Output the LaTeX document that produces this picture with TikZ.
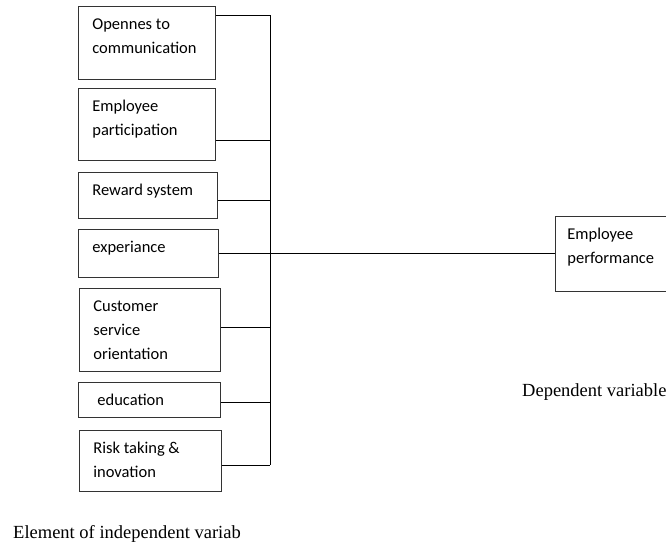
\documentclass[tikz,border=0pt]{standalone}
\usepackage{fontspec}
\setmainfont{Liberation Serif}
\newfontfamily\boxfont{Carlito}
\usepackage{tikz}
\usetikzlibrary{positioning}
\usetikzlibrary{calc}
% box content: height, width, text (top aligned, first baseline 23pt down)
\newcommand{\boxtxt}[3]{\parbox[c][#1][t]{#2}{\raggedright\leftskip=14pt\rule{0pt}{23pt}#3}}
\tikzset{
    varbox/.style={draw=black!80, line width=0.8pt, inner sep=0pt, anchor=north west,
        font=\boxfont\fontsize{16.5}{24}\selectfont},
    link/.style={draw=black, line width=0.8pt},
    caption/.style={font=\fontsize{18.5}{22}\selectfont, anchor=base west, inner sep=0pt},
}

\begin{document}
\begin{tikzpicture}[x=1pt, y=-1pt]
	\useasboundingbox (0,0) rectangle (666,544);
	\clip (0,0) rectangle (666,544);
	\node[varbox] (open) at (78,6) {\boxtxt{73pt}{137pt}{Opennes to\\communication}};
	\node[varbox] (part) at (78,88) {\boxtxt{72pt}{137pt}{Employee\\participation}};
	\node[varbox] (reward) at (78,172) {\boxtxt{46pt}{139pt}{Reward system}};
	\node[varbox] (exper) at (78,229) {\boxtxt{48pt}{140pt}{experiance}};
	\node[varbox] (cust) at (79,288) {\boxtxt{83pt}{141pt}{Customer\\service\\orientation}};
	\node[varbox] (edu) at (78,382) {\boxtxt{35pt}{142pt}{\hspace{5pt}education}};
	\node[varbox] (risk) at (79,430) {\boxtxt{61pt}{142pt}{Risk taking \&\\inovation}};
	\node[varbox] (perf) at (555,216) {\boxtxt{75pt}{130pt}{\hspace{-2pt}Employee\\\hspace*{-2pt}performance}};
	% joints on the vertical bus
	\foreach \n/\y in {open/15, part/140, reward/200, cust/327, edu/402, risk/465}{
		\coordinate (j\n) at (270,\y);
		\draw[link] (\n.east |- j\n) -- (j\n);
	}
	\draw[link] (jopen) -- (jrisk);
	\draw[link] (exper.east) -- (exper.east -| perf.west);
	\node[caption] (dep) at (522,396) {Dependent variable};
	\node[caption] (indep) at (13,538) {Element of independent variab};
\end{tikzpicture}
\end{document}
